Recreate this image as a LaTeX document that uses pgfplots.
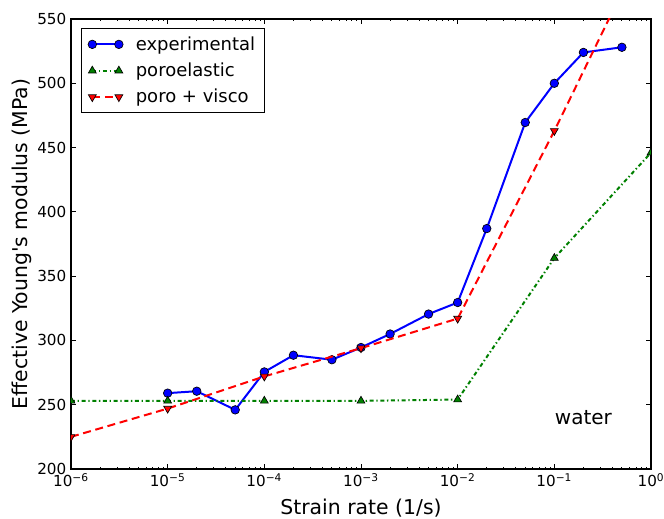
\documentclass[border=0pt]{standalone}
\usepackage{fontspec}
\setmainfont{DejaVu Sans}
\usepackage{pgfplots}
\pgfplotsset{compat=1.18}

\definecolor{mplgreen}{rgb}{0,0.5,0}

\begin{document}
\begin{tikzpicture}
% page frame: axis box is (0,0)--(435pt,337.5pt)
\useasboundingbox (-53.25pt,-36.75pt) rectangle (444.75pt,351.75pt);
\begin{axis}[
    width=435pt, height=337.5pt,
    scale only axis,
    at={(0,0)}, anchor=south west,
    xmode=log,
    xmin=1e-6, xmax=1,
    ymin=200, ymax=550,
    ytick={200,250,300,350,400,450,500,550},
    xtick={1e-6,1e-5,1e-4,1e-3,1e-2,1e-1,1},
    xticklabels={10\textsuperscript{−6},10\textsuperscript{−5},10\textsuperscript{−4},
                 10\textsuperscript{−3},10\textsuperscript{−2},10\textsuperscript{−1},10\textsuperscript{0}},
    /pgf/number format/assume math mode=true,
    tick label style={font=\fontsize{11.4}{13}\selectfont},
    label style={font=\fontsize{15.3}{18}\selectfont},
    xlabel={Strain rate (1/s)},
    ylabel={Effective Young\textquotesingle s modulus (MPa)},
    xlabel style={at={(axis description cs:0.5,-0.086)}, anchor=center},
    ylabel style={at={(axis description cs:-0.085,0.5)}, anchor=center},
    major tick length=3.5pt,
    minor tick length=1.8pt,
    axis line style={line width=0.8pt},
    every tick/.style={black, line width=0.6pt},
    clip marker paths=true,
    legend style={at={(0.017,0.98)}, anchor=north west,
      font=\fontsize{13.5}{16}\selectfont, draw=black, line width=0.8pt,
      cells={anchor=west}, inner xsep=5pt, inner ysep=4pt, row sep=4pt},
    legend image code/.code={
      \draw[mark repeat=2,mark phase=1,#1] plot coordinates {(0cm,0cm) (0.35cm,0cm) (0.7cm,0cm)};
      \path (-0.05cm,0cm) (1.05cm,0cm);},
]
% experimental
\addplot[blue, line width=1.5pt, mark=*, mark size=3.2pt,
  mark options={solid, fill=blue, draw=black, line width=0.5pt}] coordinates {
  (1e-5,259) (2e-5,260.5) (5e-5,246) (1e-4,275.5) (2e-4,288.5) (5e-4,285)
  (1e-3,294.5) (2e-3,305) (5e-3,320.5) (1e-2,329.5) (2e-2,387) (5e-2,469.5)
  (1e-1,500) (2e-1,524) (5e-1,528)};
% poroelastic
\addplot[mplgreen, line width=1.5pt, dash pattern=on 3pt off 2pt on 1pt off 2pt,
  mark=triangle*, mark size=3.4pt,
  mark options={solid, fill=mplgreen, draw=black, line width=0.5pt}] coordinates {
  (1e-6,253) (1e-5,253) (1e-4,253) (1e-3,253) (1e-2,254) (1e-1,364) (1,446)};
% poro + visco
\addplot[red, line width=1.5pt, dash pattern=on 6pt off 3.5pt,
  mark=triangle*, mark size=3.4pt,
  mark options={solid, rotate=180, fill=red, draw=black, line width=0.5pt}] coordinates {
  (1e-6,225) (1e-5,247) (1e-4,272) (1e-3,294) (1e-2,317) (1e-1,463) (1,617)};

\node[font=\fontsize{15}{18}\selectfont] at (axis cs:0.2,240) {water};

\legend{experimental, poroelastic, poro + visco}
\end{axis}
\end{tikzpicture}
\end{document}
